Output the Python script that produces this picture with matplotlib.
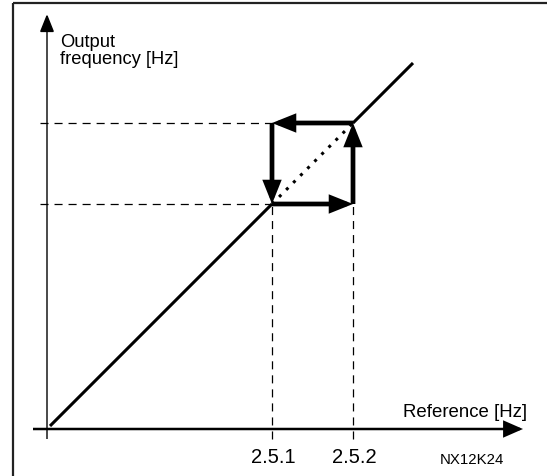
#!/usr/bin/env python3
"""Hysteresis diagram: output frequency vs. reference (NX12K24)."""

import matplotlib

matplotlib.use("Agg")
import matplotlib.pyplot as plt
from matplotlib.patches import FancyArrowPatch

plt.rcParams["font.family"] = ["Liberation Sans", "DejaVu Sans"]
plt.rcParams["lines.scale_dashes"] = False

# switching points on the reference axis (same units on both axes)
REF_POINTS = [2.25, 3.06]
TICK_LABELS = ["2.5.1", "2.5.2"]
# extent of the output = reference line
LINE_START = 0.03
LINE_END = 3.66
# axis extents
X_AXIS = [-0.14, 4.76]
Y_AXIS = [-0.10, 4.15]
GUIDE_LEFT = -0.07
GUIDE_BOTTOM = -0.10

AXIS_LABEL_X = "Reference [Hz]"
AXIS_LABEL_Y = "Output\nfrequency [Hz]"
FIGURE_CODE = "NX12K24"


def arrow(ax, start, end, lw, head_length, head_width, scale):
    style = f"-|>,head_length={head_length},head_width={head_width}"
    patch = FancyArrowPatch(
        start, end,
        arrowstyle=style,
        mutation_scale=scale,
        lw=lw,
        color="black",
        shrinkA=0,
        shrinkB=0,
        joinstyle="miter",
        capstyle="butt",
    )
    ax.add_patch(patch)


def main():
    fig = plt.figure(figsize=(5.47, 4.77), dpi=100)
    ax = fig.add_axes([0, 0, 1, 1])
    ax.set_xlim(-0.47, 5.00)
    ax.set_ylim(-0.47, 4.30)
    ax.axis("off")

    # frame (open towards right/bottom like the original crop)
    ax.plot([-0.34, -0.34], [-1.0, 4.26], color="#222222", lw=1.6,
            solid_capstyle="butt")
    ax.plot([-0.34, 6.0], [4.26, 4.26], color="#222222", lw=1.6,
            solid_capstyle="butt")

    # axes with arrows
    arrow(ax, (X_AXIS[0], 0), (X_AXIS[1], 0), 1.8, 0.8, 0.35, 14)
    arrow(ax, (0, Y_AXIS[0]), (0, Y_AXIS[1]), 1.0, 0.8, 0.32, 14)

    low, high = REF_POINTS

    # dashed guide lines
    dash = dict(color="black", lw=0.9, dashes=(5.8, 4.3))
    for value in REF_POINTS:
        ax.plot([GUIDE_LEFT, value], [value, value], **dash)
        ax.plot([value, value], [GUIDE_BOTTOM, low], **dash)

    # output follows reference, dotted inside the hysteresis band
    ax.plot([LINE_START, low], [LINE_START, low], color="black", lw=2.2,
            solid_capstyle="butt")
    ax.plot([high, LINE_END], [high, LINE_END], color="black", lw=2.2,
            solid_capstyle="butt")
    ax.plot([low, high], [low, high], color="black", lw=2.2,
            dashes=(2.2, 5.0))

    # hysteresis loop
    corners = [(low, low), (high, low), (high, high), (low, high), (low, low)]
    for start, end in zip(corners[:-1], corners[1:]):
        arrow(ax, start, end, 3.4, 0.8, 0.32, 14)

    # texts
    ax.text(0.13, 3.96, AXIS_LABEL_Y, ha="left", va="top", fontsize=13.2,
            linespacing=1.0)
    ax.text(4.80, 0.13, AXIS_LABEL_X, ha="right", va="baseline", fontsize=13.4)
    for value, label in zip(REF_POINTS, TICK_LABELS):
        ax.text(value + 0.01, -0.33, label, ha="center", va="baseline",
                fontsize=14.5)
    ax.text(4.25, -0.34, FIGURE_CODE, ha="center", va="baseline", fontsize=10.8)

    fig.savefig("out.png", dpi=100)
    plt.close(fig)


if __name__ == "__main__":
    main()
